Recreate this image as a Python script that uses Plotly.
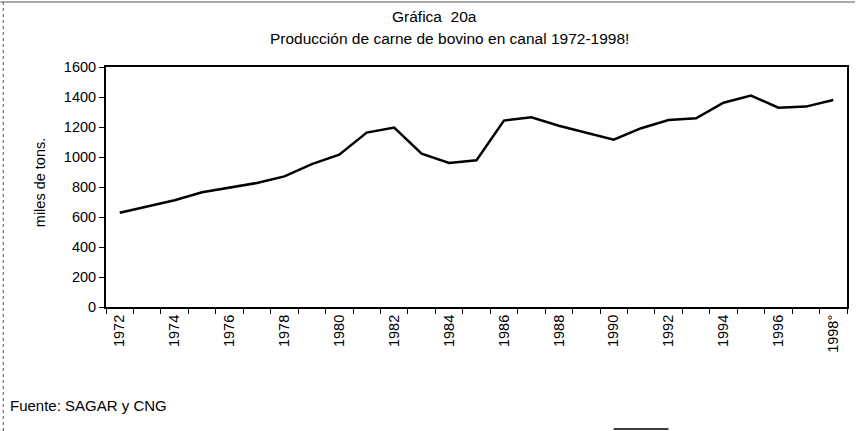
import plotly.graph_objects as go

years = list(range(1972, 1999))
tick_labels = [str(y) if (y % 2 == 0) else "" for y in years]
tick_labels[-1] = "1998°"
categories = [str(y) for y in years]
produccion = [628, 670, 712, 765, 794, 827, 871, 953, 1015, 1163, 1196, 1022, 960, 978,
              1243, 1265, 1208, 1159, 1115, 1192, 1247, 1258, 1362, 1409, 1329, 1336, 1380]
y_ticks = [0, 200, 400, 600, 800, 1000, 1200, 1400, 1600]

W, H = 857, 431
L, R, T, B = 106, 8, 67, 124
pw, ph = W - L - R, H - T - B

def px(x):
    return (x - L) / pw

def py(y):
    return (H - B - y) / ph

FONT = "Liberation Sans, Arial, sans-serif"

fig = go.Figure()
fig.add_trace(go.Scatter(
    x=categories, y=produccion, mode="lines",
    line=dict(color="black", width=2.5), showlegend=False,
))

fig.update_layout(
    width=W, height=H,
    margin=dict(l=L, r=R, t=T, b=B),
    paper_bgcolor="white", plot_bgcolor="white",
    font=dict(family=FONT, size=14, color="black"),
    xaxis=dict(
        type="category", range=[-0.5, 26.5],
        tickmode="array", tickvals=categories, ticktext=tick_labels,
        tickson="boundaries", ticks="outside", ticklen=5, tickcolor="black",
        tickangle=-90, tickfont=dict(size=14.5, family=FONT),
        showline=True, linecolor="black", linewidth=2, mirror=True,
        showgrid=False, zeroline=False,
    ),
    yaxis=dict(
        range=[0, 1600], tickmode="array", tickvals=y_ticks,
        ticks="outside", ticklen=5, tickcolor="black",
        tickfont=dict(size=14.5, family=FONT),
        showline=True, linecolor="black", linewidth=2, mirror=True,
        showgrid=False, zeroline=False,
    ),
    annotations=[
        dict(text="Gráfica\u00a0\u00a020a", x=px(435), y=py(16), xref="paper", yref="paper",
             showarrow=False, xanchor="center", yanchor="middle",
             font=dict(size=15.5, family=FONT)),
        dict(text="Producción de carne de bovino en canal 1972-1998!", x=px(450), y=py(38),
             xref="paper", yref="paper", showarrow=False, xanchor="center", yanchor="middle",
             font=dict(size=15.5, family=FONT)),
        dict(text="miles de tons.", x=px(40), y=py(183), xref="paper", yref="paper",
             showarrow=False, xanchor="center", yanchor="middle", textangle=-90,
             font=dict(size=14.5, family=FONT)),
        dict(text="Fuente: SAGAR y CNG", x=px(8), y=py(405), xref="paper", yref="paper",
             showarrow=False, xanchor="left", yanchor="middle",
             font=dict(size=15, family=FONT)),
    ],
    shapes=[
        dict(type="line", xref="paper", yref="paper", x0=px(3), x1=px(3), y0=py(2), y1=py(431),
             line=dict(color="#555555", width=1, dash="dot")),
        dict(type="line", xref="paper", yref="paper", x0=px(0), x1=px(857), y0=py(2), y1=py(2),
             line=dict(color="#555555", width=1)),
        dict(type="line", xref="paper", yref="paper", x0=px(615), x1=px(670), y0=py(429), y1=py(429),
             line=dict(color="black", width=1.5)),
    ],
)

fig.write_html("out.html", config={"displayModeBar": False},
               post_script="document.body.style.margin='0';")
